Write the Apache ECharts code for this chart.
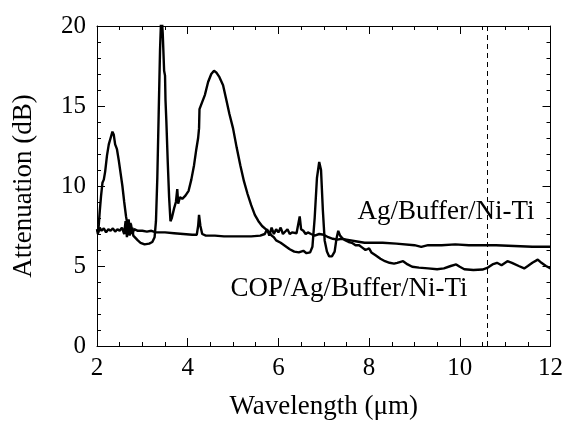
<!DOCTYPE html>
<html>
<head>
<meta charset="utf-8">
<script src="https://cdn.jsdelivr.net/npm/echarts@6/dist/echarts.min.js"></script>
<style>html,body{margin:0;padding:0;background:#fff}#c{width:566px;height:425px}</style>
</head>
<body>
<div id="c"></div>
<script>
// ---- data ----
var xTicks = [2, 4, 6, 8, 10, 12];
var yTicks = [0, 5, 10, 15, 20];
var cutoffWavelength = 10.6;

var agWavelength = [2.00,2.03,2.06,2.10,2.15,2.20,2.25,2.30,2.35,2.40,2.45,2.50,2.55,2.60,2.63,2.66,2.69,2.72,2.75,2.78,2.82,2.90,3.00,3.10,3.20,3.30,3.50,3.70,3.90,4.10,4.20,4.23,4.25,4.28,4.32,4.40,4.60,4.80,5.00,5.20,5.40,5.60,5.70,5.75,5.80,5.85,5.90,5.95,6.00,6.05,6.10,6.20,6.25,6.30,6.40,6.47,6.50,6.55,6.60,6.65,6.72,6.80,6.90,7.00,7.10,7.20,7.30,7.40,7.50,7.60,7.70,7.80,7.90,8.00,8.30,8.60,9.00,9.15,9.30,9.60,9.90,10.20,10.50,10.80,11.20,11.60,12.00];
var agAttenuation = [7.3,7.1,7.4,7.2,7.35,7.1,7.3,7.2,7.35,7.15,7.3,7.2,7.4,7.0,7.8,6.8,7.9,6.9,7.6,7.0,7.3,7.2,7.2,7.15,7.2,7.1,7.1,7.05,7.0,6.95,6.95,7.5,8.2,7.5,7.0,6.9,6.9,6.85,6.85,6.85,6.85,6.9,7.0,7.3,6.9,7.4,7.0,7.3,7.1,7.4,7.0,7.3,7.0,7.1,7.05,8.1,7.3,7.2,7.0,7.1,7.0,6.9,7.0,6.95,6.8,6.7,6.65,6.7,6.65,6.6,6.55,6.5,6.45,6.45,6.45,6.4,6.3,6.2,6.3,6.3,6.35,6.3,6.3,6.3,6.25,6.2,6.2];

var copWavelength = [2.00,2.02,2.04,2.06,2.09,2.12,2.15,2.18,2.22,2.26,2.30,2.34,2.37,2.40,2.44,2.48,2.52,2.56,2.60,2.64,2.67,2.70,2.72,2.74,2.76,2.78,2.80,2.84,2.90,2.96,3.05,3.15,3.22,3.27,3.30,3.33,3.36,3.39,3.42,3.45,3.48,3.50,3.51,3.53,3.56,3.59,3.62,3.65,3.70,3.74,3.77,3.79,3.83,3.88,3.95,4.02,4.08,4.14,4.19,4.23,4.25,4.26,4.30,4.38,4.45,4.52,4.58,4.63,4.70,4.78,4.85,4.92,5.00,5.08,5.16,5.24,5.32,5.40,5.48,5.56,5.64,5.72,5.80,5.85,5.90,5.95,6.05,6.15,6.25,6.35,6.45,6.55,6.62,6.70,6.75,6.80,6.85,6.90,6.94,6.98,7.02,7.07,7.12,7.18,7.24,7.28,7.32,7.36,7.42,7.48,7.55,7.62,7.70,7.78,7.85,7.92,8.00,8.05,8.15,8.25,8.35,8.45,8.55,8.62,8.75,8.85,8.95,9.10,9.30,9.50,9.65,9.80,9.92,10.00,10.10,10.30,10.50,10.62,10.72,10.82,10.92,11.05,11.15,11.30,11.42,11.50,11.60,11.72,11.80,11.90,12.00];
var copAttenuation = [7.3,7.0,7.6,8.4,9.4,10.2,10.4,10.9,11.9,12.6,13.0,13.4,13.2,12.6,12.3,11.6,10.8,10.0,9.0,8.1,7.6,7.9,7.1,7.7,7.0,7.4,6.9,6.8,6.6,6.45,6.35,6.4,6.5,6.8,7.8,10.5,14.5,18.5,21.0,19.5,17.2,16.9,15.4,14.0,11.5,9.3,7.8,8.0,8.6,9.0,9.8,8.9,9.3,9.2,9.4,9.7,10.4,11.3,12.3,13.0,13.6,14.8,15.1,15.7,16.5,17.0,17.2,17.1,16.8,16.3,15.4,14.5,13.6,12.4,11.3,10.3,9.5,8.8,8.2,7.8,7.5,7.3,7.1,6.9,6.8,6.6,6.45,6.25,6.05,5.9,5.85,5.95,5.8,5.85,6.2,8.0,10.5,11.5,11.0,8.5,6.6,5.9,5.6,5.6,5.9,6.7,7.2,6.9,6.7,6.6,6.5,6.45,6.3,6.3,6.15,6.0,6.1,5.85,5.65,5.45,5.3,5.2,5.15,5.2,5.3,5.1,4.95,4.9,4.85,4.8,4.85,5.0,5.1,4.95,4.8,4.75,4.78,4.9,5.1,5.2,5.05,5.3,5.2,5.0,4.85,5.0,5.2,5.4,5.2,5.0,4.85];

var labelAg = 'Ag/Buffer/Ni-Ti';
var labelCop = 'COP/Ag/Buffer/Ni-Ti';
var xTitle = 'Wavelength (μm)';
var yTitle = 'Attenuation (dB)';

// ---- chart ----
function pairs(xs, ys) { return xs.map(function (x, i) { return [x, ys[i]]; }); }
var FONT = "'Liberation Serif','Times New Roman',serif";
var chart = echarts.init(document.getElementById('c'), null, {renderer: 'canvas'});

function xAxisCfg(pos, showLabel) {
  return {
    type: 'value', position: pos, min: xTicks[0], max: xTicks[xTicks.length - 1],
    interval: xTicks[1] - xTicks[0],
    name: showLabel ? xTitle : '', nameLocation: 'middle', nameGap: 47,
    nameTextStyle: {fontFamily: FONT, fontSize: 27, color: '#000'},
    axisLine: {show: true, onZero: false, lineStyle: {color: '#000', width: 1}},
    axisTick: {show: true, inside: true, length: 8, lineStyle: {color: '#000', width: 1}},
    minorTick: {show: true, splitNumber: 4, length: 4, lineStyle: {color: '#000', width: 1}},
    splitLine: {show: false},
    axisLabel: {show: showLabel, margin: 10, fontFamily: FONT, fontSize: 25, color: '#000'}
  };
}
function yAxisCfg(pos, showLabel) {
  return {
    type: 'value', position: pos, min: yTicks[0], max: yTicks[yTicks.length - 1],
    interval: yTicks[1] - yTicks[0],
    name: showLabel ? yTitle : '', nameLocation: 'middle', nameGap: 60,
    nameTextStyle: {fontFamily: FONT, fontSize: 27, color: '#000'},
    axisLine: {show: true, onZero: false, lineStyle: {color: '#000', width: 1}},
    axisTick: {show: true, inside: true, length: 8, lineStyle: {color: '#000', width: 1}},
    minorTick: {show: true, splitNumber: 5, length: 4, lineStyle: {color: '#000', width: 1}},
    splitLine: {show: false},
    axisLabel: {show: showLabel, margin: 11, fontFamily: FONT, fontSize: 25, color: '#000'}
  };
}

chart.setOption({
  animation: false,
  backgroundColor: '#fff',
  grid: {left: 97, right: 14, top: 26, bottom: 76, containLabel: false},
  xAxis: [xAxisCfg('bottom', true), xAxisCfg('top', false)],
  yAxis: [yAxisCfg('left', true), yAxisCfg('right', false)],
  series: [
    {
      name: labelAg, type: 'line', xAxisIndex: 0, yAxisIndex: 0,
      data: pairs(agWavelength, agAttenuation), showSymbol: false, clip: true,
      lineStyle: {color: '#000', width: 2.4}
    },
    {
      name: labelCop, type: 'line', xAxisIndex: 0, yAxisIndex: 0,
      data: pairs(copWavelength, copAttenuation), showSymbol: false, clip: true,
      lineStyle: {color: '#000', width: 2.4},
      markLine: {
        silent: true, symbol: 'none', label: {show: false},
        lineStyle: {color: '#000', width: 1, type: [5, 4]},
        data: [{xAxis: cutoffWavelength}]
      }
    }
  ],
  graphic: [
    {type: 'text', x: 446, y: 212, style: {text: labelAg, fontFamily: FONT, fontSize: 27, fill: '#000', align: 'center', verticalAlign: 'middle'}},
    {type: 'text', x: 349, y: 289, style: {text: labelCop, fontFamily: FONT, fontSize: 27, fill: '#000', align: 'center', verticalAlign: 'middle'}}
  ]
});
</script>
</body>
</html>
